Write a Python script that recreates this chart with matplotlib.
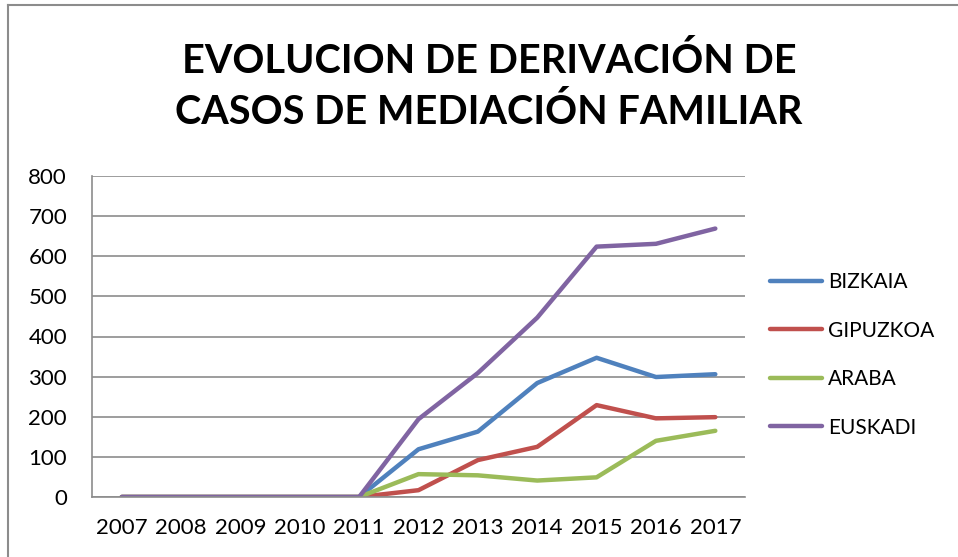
import matplotlib
matplotlib.use("Agg")
import matplotlib.pyplot as plt
from matplotlib.lines import Line2D

years = ["2007", "2008", "2009", "2010", "2011", "2012", "2013", "2014", "2015", "2016", "2017"]
bizkaia = [0, 0, 0, 0, 0, 119, 163, 284, 347, 299, 306]
gipuzkoa = [0, 0, 0, 0, 0, 17, 92, 125, 229, 196, 199]
araba = [0, 0, 0, 0, 0, 57, 54, 41, 49, 140, 165]
euskadi = [0, 0, 0, 0, 0, 194, 309, 447, 624, 631, 669]
series_names = ["BIZKAIA", "GIPUZKOA", "ARABA", "EUSKADI"]
colors = ["#4F81BD", "#C0504D", "#9BBB59", "#8064A2"]
yticks = [0, 100, 200, 300, 400, 500, 600, 700, 800]
title = "EVOLUCION DE DERIVACIÓN DE\nCASOS DE MEDIACIÓN FAMILIAR"

plt.rcParams['font.family'] = ['Lato', 'DejaVu Sans']

W, H = 958, 557
fig = plt.figure(figsize=(W / 100, H / 100), dpi=100)
ax = fig.add_axes([92 / W, (H - 497) / H, (745 - 92) / W, (497 - 176) / H])

x = list(range(len(years)))
for vals, name, c in zip([bizkaia, gipuzkoa, araba, euskadi], series_names, colors):
    ax.plot(x, vals, color=c, lw=3.2, label=name, solid_capstyle='round', solid_joinstyle='round')

ax.set_xlim(-0.5, len(years) - 0.5)
ax.set_ylim(0, 800)
ax.set_yticks(yticks)
ax.set_yticklabels([str(v) for v in yticks], fontsize=16)
ax.set_xticks(x)
ax.set_xticklabels(years, fontsize=16)
ax.tick_params(axis='y', length=0, pad=18)
ax.tick_params(axis='x', length=0, pad=15)
ax.yaxis.grid(True, color="#8C8C8C", lw=1.2)
ax.set_axisbelow(True)
for s in ['top', 'right']:
    ax.spines[s].set_visible(False)
for s in ['left', 'bottom']:
    ax.spines[s].set_color("#8C8C8C")
    ax.spines[s].set_linewidth(1.2)

fig.text(489 / W, 1 - 86.5 / H, title, ha='center', va='center', fontsize=28.5,
         fontweight='bold', linespacing=1.42)

leg = fig.legend(loc='upper left', bbox_to_anchor=(770 / W, 1 - 272 / H), frameon=False,
                 fontsize=15, handlelength=2.5, handletextpad=0.3, labelspacing=1.37,
                 borderpad=0, borderaxespad=0)

fig.add_artist(Line2D([8 / W, 8 / W], [0, 1 - 5 / H], color="#8C8C8C", lw=1.5))
fig.add_artist(Line2D([8 / W, 1], [1 - 5 / H, 1 - 5 / H], color="#8C8C8C", lw=1.5))

fig.savefig("out.png", dpi=100)
